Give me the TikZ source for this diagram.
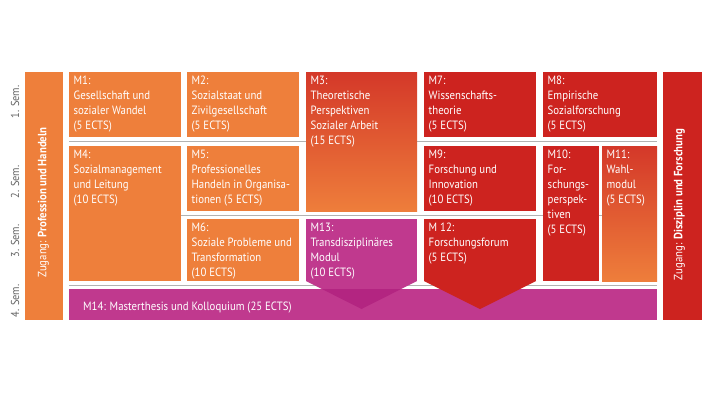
\documentclass[tikz,border=0pt]{standalone}
\usepackage{fontspec}
\setmainfont{PT Sans}[FakeStretch=0.9]
\usetikzlibrary{calc}
\definecolor{cOrange}{RGB}{238,127,59}
\definecolor{cRed}{RGB}{205,35,31}
\definecolor{cMag}{RGB}{192,57,142}
\definecolor{cMagDark}{RGB}{179,37,129}
\definecolor{cGradTop}{RGB}{212,56,41}
\definecolor{cGradBot}{RGB}{238,126,59}
\definecolor{cLine}{RGB}{178,178,178}
\definecolor{cSem}{RGB}{100,100,100}
\tikzset{
  modbox/.style={rectangle, inner sep=0pt, outer sep=0pt, draw=none, anchor=north west},
  modtext/.style={text=white, font=\fontsize{12}{15}\selectfont, align=left, inner sep=0pt, anchor=north west},
  bartext/.style={text=white, font=\fontsize{12}{15}\selectfont, inner sep=0pt, rotate=90},
  semtext/.style={text=cSem, font=\fontsize{11.5}{13}\selectfont, inner sep=0pt, rotate=90},
  sepline/.style={draw=cLine, line width=1pt},
  gradfill/.style={top color=cGradTop, bottom color=cGradBot}
}
\newcommand\modbox[7]{%
  \node[modbox, #6, minimum width={#4-#2}, minimum height={#5-#3}] (#1) at (#2,#3) {};
  \node[modtext] (#1t) at ([xshift=4.5pt, yshift=-4pt]#1.north west) {#7};}
\begin{document}
\begin{tikzpicture}[x=1pt, y=-1pt]
\fill[white] (0,0) rectangle (705,397);
\path[use as bounding box] (0,0) rectangle (705,397);
% separator lines
\draw[sepline] (69,141) -- (657,141);
\draw[sepline] (69,215) -- (657,215);
\draw[sepline] (69,285) -- (657,285);
% semester labels
\node[semtext] (s1) at (15,102) {1. Sem.};
\node[semtext] (s2) at (15,182) {2. Sem.};
\node[semtext] (s3) at (15,241) {3. Sem.};
\node[semtext] (s4) at (15,301) {4. Sem.};
% side bars
\node[modbox, fill=cOrange, minimum width=38, minimum height=248] (lbar) at (25,72) {};
\node[bartext] (lbart) at (43.5,202.5) {Zugang: \textbf{Profession und Handeln}};
\node[modbox, fill=cRed, minimum width=39, minimum height=248] (rbar) at (663,72) {};
\node[bartext] (rbart) at (679.5,204.5) {Zugang: \textbf{Disziplin und Forschung}};
% M14
\node[modbox, fill=cMag, minimum width=588, minimum height=31] (m14) at (69,289) {};
\node[text=white, font=\fontsize{12}{15}\selectfont, inner sep=0pt, anchor=base west] (m14t) at (83,310.5) {M14: Masterthesis und Kolloquium (25 ECTS)};
% modules
\modbox{m1}{69}{72}{181}{137}{fill=cOrange}{M1:\\Gesellschaft und\\sozialer Wandel\\(5 ECTS)}
\modbox{m2}{187}{72}{299}{137}{fill=cOrange}{M2:\\Sozialstaat und\\Zivilgesellschaft\\(5 ECTS)}
\modbox{m3}{306}{72}{417}{211}{gradfill}{M3:\\Theoretische\\Perspektiven\\Sozialer Arbeit\\(15 ECTS)}
\modbox{m4}{69}{146}{181}{281}{fill=cOrange}{M4:\\Sozialmanagement\\und Leitung\\(10 ECTS)}
\modbox{m5}{187}{146}{299}{211}{fill=cOrange}{M5:\\Professionelles\\Handeln in Organisa-\\tionen (5 ECTS)}
\modbox{m6}{187}{219}{299}{281}{fill=cOrange}{M6:\\Soziale Probleme und\\Transformation\\(10 ECTS)}
\modbox{m7}{424}{72}{536}{137}{fill=cRed}{M7:\\Wissenschafts-\\theorie\\(5 ECTS)}
\modbox{m8}{543}{72}{657}{137}{fill=cRed}{M8:\\Empirische\\Sozialforschung\\(5 ECTS)}
\modbox{m9}{424}{146}{536}{211}{fill=cRed}{M9:\\Forschung und\\Innovation\\(10 ECTS)}
\modbox{m10}{543}{146}{599}{281}{fill=cRed}{M10:\\For-\\schungs-\\perspek-\\tiven\\(5 ECTS)}
\modbox{m11}{602}{146}{657}{281}{gradfill}{M11:\\Wahl-\\modul\\(5 ECTS)}
% M13 arrow
\node[modbox, fill=cMag, minimum width=111, minimum height=62] (m13) at (306,219) {};
\fill[cMag] (m13.south west) -- (m13.south east) -- ([yshift=-28pt]m13.south) -- cycle;
\begin{scope}
  \clip (m14.north west) rectangle (m14.south east);
  \fill[cMagDark] (m13.south west) -- (m13.south east) -- ([yshift=-28pt]m13.south) -- cycle;
\end{scope}
\node[modtext] (m13t) at ([xshift=4.5pt, yshift=-4pt]m13.north west) {M13:\\Transdisziplinäres\\Modul\\(10 ECTS)};
% M12 arrow
\node[modbox, fill=cRed, minimum width=112, minimum height=62] (m12) at (424,219) {};
\fill[cRed] (m12.south west) -- (m12.south east) -- ([yshift=-28pt]m12.south) -- cycle;
\node[modtext] (m12t) at ([xshift=4.5pt, yshift=-4pt]m12.north west) {M 12:\\Forschungsforum\\(5 ECTS)};
\end{tikzpicture}
\end{document}
